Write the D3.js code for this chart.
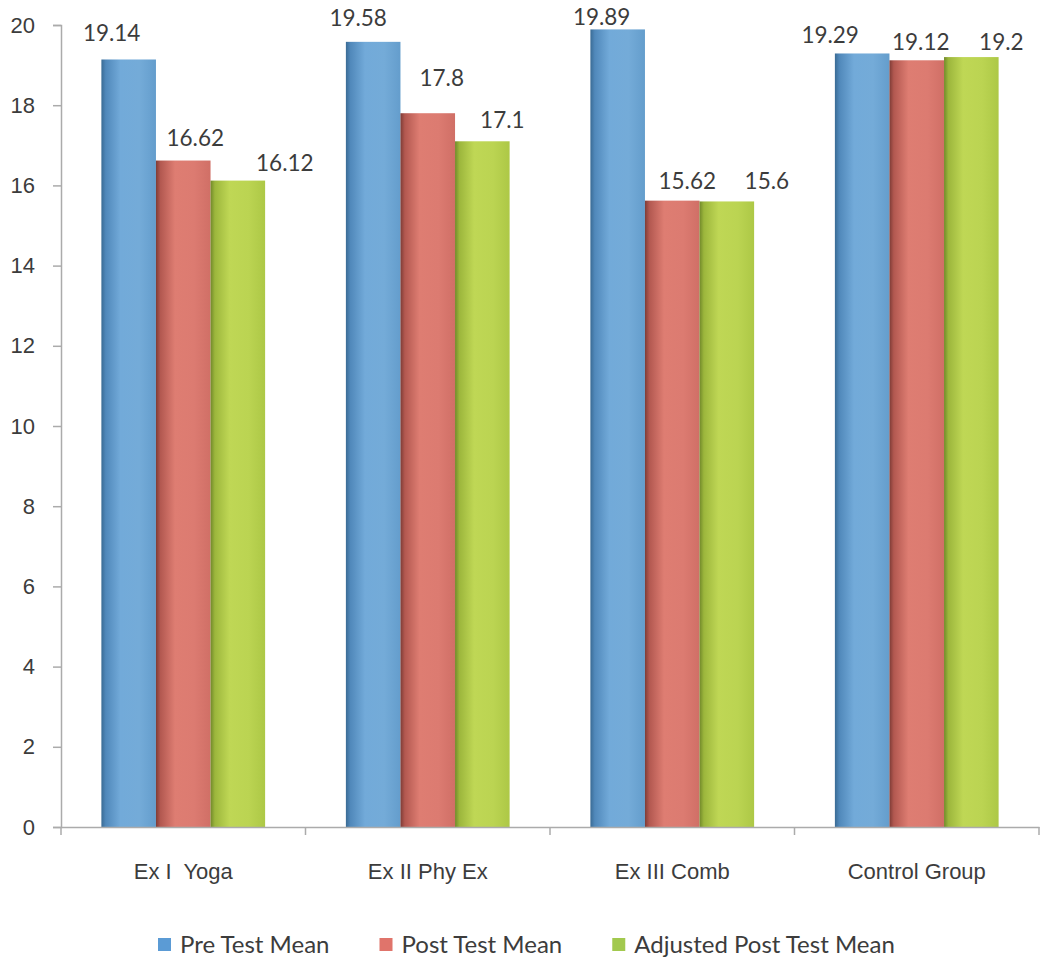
<!DOCTYPE html>
<html>
<head>
<meta charset="utf-8">
<script src="https://cdn.jsdelivr.net/npm/d3@7"></script>
<style>
  html, body { margin: 0; padding: 0; background: #fff; }
  svg { display: block; font-family: Lato, "Open Sans", sans-serif; }
</style>
</head>
<body>
<div id="chart"></div>
<script>
// Group means per test phase
const categories = ["Ex I  Yoga", "Ex II Phy Ex", "Ex III Comb", "Control Group"];
const seriesNames = ["Pre Test Mean", "Post Test Mean", "Adjusted Post Test Mean"];
const preTestMean = [19.14, 19.58, 19.89, 19.29];
const postTestMean = [16.62, 17.8, 15.62, 19.12];
const adjustedPostTestMean = [16.12, 17.1, 15.6, 19.2];
const yTickValues = [0, 2, 4, 6, 8, 10, 12, 14, 16, 18, 20];

const seriesValues = [preTestMean, postTestMean, adjustedPostTestMean];

// Layout
const W = 1041, H = 965;
const plot = { left: 61, right: 1039, top: 25, bottom: 827 };
const textColor = "#3c3c3c";
const axisColor = "#ababab";

// Hand-placed data label offsets [dx, rise of the digits' middle above the bar top]
const labelNudge = [
  [[-17, 26], [12, 23], [47, 18]],
  [[-15, 24], [14, 35], [20, 21]],
  [[-16, 12], [15, 20], [40, 20]],
  [[-32, 18], [4, 18], [30, 15]]
];

// Column shading: darker left edge, lighter body
const shades = [
  { key: "blue",  legend: "#5b9bd5", stops: [["0%", "#3a6b94"], ["8%", "#5088ba"], ["35%", "#72aad9"], ["70%", "#74abd8"], ["100%", "#649dcc"]] },
  { key: "red",   legend: "#e0746b", stops: [["0%", "#7e3c36"], ["8%", "#b25850"], ["35%", "#de7d72"], ["70%", "#dc7b71"], ["100%", "#d06f66"]] },
  { key: "green", legend: "#a2c94e", stops: [["0%", "#71892a"], ["8%", "#9cb63c"], ["35%", "#bfd755"], ["70%", "#bbd452"], ["100%", "#adc846"]] }
];

const svg = d3.select("#chart").append("svg")
  .attr("width", W).attr("height", H);

const defs = svg.append("defs");
shades.forEach(s => {
  const g = defs.append("linearGradient")
    .attr("id", "grad-" + s.key)
    .attr("x1", "0").attr("x2", "1").attr("y1", "0").attr("y2", "0");
  s.stops.forEach(([o, c]) => g.append("stop").attr("offset", o).attr("stop-color", c));
});

const x0 = d3.scaleBand().domain(categories).range([plot.left, plot.right]).paddingInner(0).paddingOuter(0);
const x1 = d3.scaleBand().domain(d3.range(seriesNames.length)).range([0, x0.bandwidth()]).paddingInner(0).paddingOuter(0.74);
const y = d3.scaleLinear().domain([0, 20]).range([plot.bottom, plot.top]);

// Y axis
const yAxis = svg.append("g").attr("transform", `translate(${plot.left},0)`)
  .call(d3.axisLeft(y).tickValues(yTickValues).tickSize(8).tickPadding(18).tickFormat(d3.format("d")));
yAxis.select(".domain").attr("stroke", axisColor).attr("stroke-width", 1.5);
yAxis.selectAll(".tick line").attr("stroke", axisColor).attr("stroke-width", 1.5);
yAxis.selectAll(".tick text").attr("fill", textColor).style("font-size", "22px").attr("font-family", null);

// Bars
const groups = svg.append("g").selectAll("g")
  .data(categories)
  .join("g")
  .attr("transform", d => `translate(${x0(d)},0)`);

groups.each(function(cat, ci) {
  const g = d3.select(this);
  seriesNames.forEach((s, si) => {
    const v = seriesValues[si][ci];
    g.append("rect")
      .attr("x", x1(si))
      .attr("y", y(v))
      .attr("width", x1.bandwidth())
      .attr("height", y(0) - y(v))
      .attr("fill", `url(#grad-${shades[si].key})`);
  });
});

// X axis
const xAxis = svg.append("g").attr("transform", `translate(0,${plot.bottom})`)
  .call(d3.axisBottom(x0).tickSize(0).tickPadding(36));
xAxis.select(".domain").attr("stroke", axisColor).attr("stroke-width", 1.5);
xAxis.selectAll(".tick text").attr("fill", textColor).style("font-size", "22px")
  .style("white-space", "pre").attr("font-family", null);
// Category separators
const sepPositions = categories.map(c => x0(c)).concat([x0(categories[categories.length - 1]) + x0.bandwidth()]);
xAxis.selectAll(".sep").data(sepPositions).join("line")
  .attr("class", "sep")
  .attr("x1", d => d).attr("x2", d => d)
  .attr("y1", 0).attr("y2", 8)
  .attr("stroke", axisColor).attr("stroke-width", 1.5);

// Value labels
groups.each(function(cat, ci) {
  const g = d3.select(this);
  seriesNames.forEach((s, si) => {
    const v = seriesValues[si][ci];
    const [dx, rise] = labelNudge[ci][si];
    g.append("text")
      .attr("x", x1(si) + x1.bandwidth() / 2 + dx)
      .attr("y", y(v) - rise + 8)
      .attr("text-anchor", "middle")
      .attr("fill", textColor)
      .style("font-size", "22.5px")
      .text(v);
  });
});

// Legend
const legend = svg.append("g").attr("transform", "translate(0,945)");
let cursor = 158;
seriesNames.forEach((s, si) => {
  legend.append("rect")
    .attr("x", cursor).attr("y", -7)
    .attr("width", 13).attr("height", 13)
    .attr("fill", shades[si].legend);
  const t = legend.append("text")
    .attr("x", cursor + 22).attr("y", 0)
    .attr("dy", "0.35em")
    .attr("fill", textColor)
    .style("font-size", "24px")
    .text(s);
  cursor += 22 + t.node().getComputedTextLength() + 50;
});
</script>
</body>
</html>
